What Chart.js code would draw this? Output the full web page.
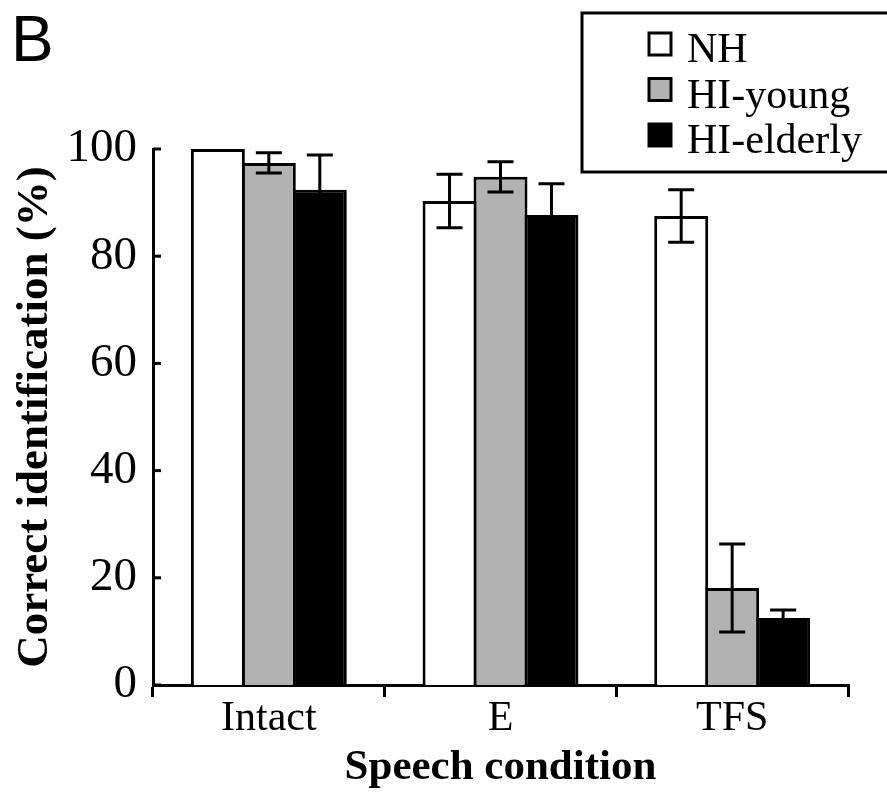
<!DOCTYPE html>
<html>
<head>
<meta charset="utf-8">
<script src="https://cdn.jsdelivr.net/npm/chart.js@4.4.0/dist/chart.umd.min.js"></script>
<style>
  html, body { margin: 0; padding: 0; background: #ffffff; }
  #wrap { width: 887px; height: 792px; position: relative; }
</style>
</head>
<body>
<div id="wrap"><canvas id="c" width="887" height="792"></canvas></div>
<script>
// Speech conditions and listener groups
const categories = ['Intact', 'E', 'TFS'];
const groupNames = ['NH', 'HI-young', 'HI-elderly'];

// Mean correct identification (%) per group, and the error bar half-lengths
const nhValues = [100, 90.3, 87.5];
const nhErrors = [0, 5.0, 4.9];
const hiYoungValues = [97.4, 94.8, 18.1];
const hiYoungErrors = [1.9, 2.8, 8.2];
const hiElderlyValues = [92.4, 87.7, 12.5];
const hiElderlyErrors = [6.5, 5.8, 1.5];

// Y axis tick values
const yTickValues = [0, 20, 40, 60, 80, 100];

const errorsByDataset = [nhErrors, hiYoungErrors, hiElderlyErrors];
const SERIF = "'Liberation Serif', 'Times New Roman', serif";

// Error bars: vertical whisker with caps, placed by the bar elements and the y scale
const errorBarPlugin = {
  id: 'errorBars',
  afterDatasetsDraw(chart) {
    const ctx = chart.ctx;
    const y = chart.scales.y;
    ctx.save();
    ctx.strokeStyle = '#000';
    ctx.lineWidth = 3;
    ctx.lineCap = 'butt';
    chart.data.datasets.forEach((ds, di) => {
      const meta = chart.getDatasetMeta(di);
      const errs = errorsByDataset[di];
      meta.data.forEach((bar, i) => {
        const e = errs[i];
        if (!e) return;
        const v = ds.data[i];
        const yt = y.getPixelForValue(v + e);
        const yb = y.getPixelForValue(v - e);
        const x = bar.x;
        const cap = 13;
        ctx.beginPath();
        ctx.moveTo(x, yt); ctx.lineTo(x, yb);
        ctx.moveTo(x - cap, yt); ctx.lineTo(x + cap, yt);
        ctx.moveTo(x - cap, yb); ctx.lineTo(x + cap, yb);
        ctx.stroke();
      });
    });
    ctx.restore();
  }
};

// Short tick marks pointing into the plot from the y axis
const innerTicksPlugin = {
  id: 'innerTicks',
  afterDraw(chart) {
    const ctx = chart.ctx;
    const y = chart.scales.y;
    const x0 = chart.chartArea.left;
    ctx.save();
    ctx.strokeStyle = '#000';
    ctx.lineWidth = 3;
    y.ticks.forEach(t => {
      const py = y.getPixelForValue(t.value);
      ctx.beginPath();
      ctx.moveTo(x0, py); ctx.lineTo(x0 + 8, py);
      ctx.stroke();
    });
    ctx.restore();
  }
};

// Boxed legend in the upper right corner
const boxLegendPlugin = {
  id: 'boxLegend',
  afterDraw(chart) {
    const ctx = chart.ctx;
    const box = { x: 582, y: 13, w: 320, h: 159 };
    ctx.save();
    ctx.strokeStyle = '#000';
    ctx.lineWidth = 3;
    ctx.fillStyle = '#fff';
    ctx.fillRect(box.x, box.y, box.w, box.h);
    ctx.strokeRect(box.x, box.y, box.w, box.h);
    ctx.font = '42px ' + SERIF;
    ctx.textBaseline = 'alphabetic';
    ctx.textAlign = 'left';
    chart.data.datasets.forEach((ds, i) => {
      const top = 32 + i * 45.5;
      ctx.fillStyle = ds.backgroundColor;
      ctx.fillRect(649, top + 1, 22, 22);
      ctx.lineWidth = 3;
      ctx.strokeRect(649, top + 1, 22, 22);
      ctx.fillStyle = '#000';
      ctx.fillText(ds.label, 687, top + 30);
    });
    ctx.restore();
  }
};

// Panel letter
const panelLetterPlugin = {
  id: 'panelLetter',
  afterDraw(chart) {
    const ctx = chart.ctx;
    ctx.save();
    ctx.fillStyle = '#000';
    ctx.font = "64px 'Liberation Sans', Arial, sans-serif";
    ctx.textBaseline = 'alphabetic';
    ctx.textAlign = 'left';
    ctx.fillText('B', 11, 61);
    ctx.restore();
  }
};

const barCommon = {
  borderColor: '#000',
  borderWidth: 3,
  borderSkipped: 'start',
  categoryPercentage: 0.66,
  barPercentage: 1.0588
};

new Chart(document.getElementById('c'), {
  type: 'bar',
  data: {
    labels: categories,
    datasets: [
      Object.assign({ label: groupNames[0], data: nhValues, backgroundColor: '#ffffff' }, barCommon),
      Object.assign({ label: groupNames[1], data: hiYoungValues, backgroundColor: '#b2b2b2' }, barCommon),
      Object.assign({ label: groupNames[2], data: hiElderlyValues, backgroundColor: '#000000' }, barCommon)
    ]
  },
  options: {
    responsive: false,
    animation: false,
    devicePixelRatio: 1,
    layout: { padding: { left: 0, top: 149, right: 39, bottom: 0 } },
    plugins: {
      legend: { display: false },
      tooltip: { enabled: false },
      title: { display: false }
    },
    scales: {
      x: {
        offset: true,
        grid: {
          display: true,
          drawOnChartArea: false,
          drawTicks: true,
          tickLength: 12,
          lineWidth: 3,
          color: '#000',
          offset: true
        },
        border: { display: true, color: '#000', width: 3 },
        ticks: {
          color: '#000',
          font: { family: SERIF, size: 42 },
          padding: -3,
          maxRotation: 0
        },
        title: {
          display: true,
          text: 'Speech condition',
          color: '#000',
          font: { family: SERIF, size: 43, weight: 'bold', lineHeight: 1 },
          padding: { top: 0, bottom: 3 }
        },
        afterFit(scale) { scale.height = 107; }
      },
      y: {
        min: 0,
        max: 100,
        afterBuildTicks(scale) { scale.ticks = yTickValues.map(v => ({ value: v })); },
        grid: { display: false, drawTicks: false },
        border: { display: true, color: '#000', width: 3 },
        ticks: {
          color: '#000',
          font: { family: SERIF, size: 47 },
          padding: 16
        },
        title: {
          display: true,
          text: 'Correct identification (%)',
          color: '#000',
          font: { family: SERIF, size: 45, weight: 'bold', lineHeight: 1 },
          padding: { top: 13, bottom: 0 }
        },
        afterFit(scale) { scale.width = 153; }
      }
    }
  },
  plugins: [errorBarPlugin, innerTicksPlugin, boxLegendPlugin, panelLetterPlugin]
});
</script>
</body>
</html>
